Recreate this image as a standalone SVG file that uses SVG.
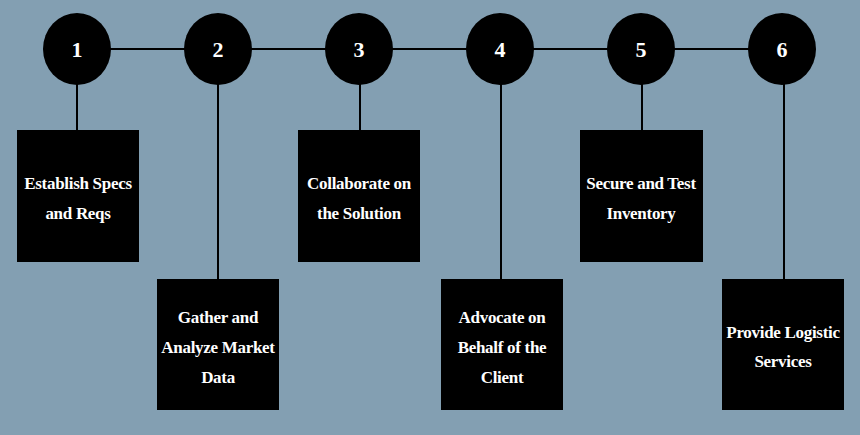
<svg xmlns="http://www.w3.org/2000/svg" width="860" height="435" viewBox="0 0 860 435">
<style>
.bg{fill:#839fb2}
.ln{stroke:#000;stroke-width:2;fill:none}
.c{fill:#000}
.box{fill:#000}
.num{font-family:"Liberation Serif","Times New Roman",serif;font-weight:bold;font-size:22px;fill:#fff;text-anchor:middle}
.lbl{font-family:"Liberation Serif","Times New Roman",serif;font-weight:bold;font-size:17px;fill:#fff;text-anchor:middle;letter-spacing:-0.3px}
</style>
<rect class="bg" x="0" y="0" width="860" height="435"/>
<g id="connectors">
<line class="ln" x1="77" y1="49" x2="782" y2="49"/>
<line class="ln" x1="77" y1="80" x2="77" y2="131"/>
<line class="ln" x1="218" y1="80" x2="218" y2="280"/>
<line class="ln" x1="360" y1="80" x2="360" y2="131"/>
<line class="ln" x1="501" y1="80" x2="501" y2="280"/>
<line class="ln" x1="642" y1="80" x2="642" y2="131"/>
<line class="ln" x1="784" y1="80" x2="784" y2="280"/>
</g>
<g id="step1">
<ellipse class="c" cx="77" cy="49" rx="34" ry="36"/>
<text class="num" x="77" y="57">1</text>
<rect class="box" x="17" y="130" width="122" height="132"/>
<text class="lbl" x="78" y="189">Establish Specs</text>
<text class="lbl" x="78" y="219">and Reqs</text>
</g>
<g id="step2">
<ellipse class="c" cx="218" cy="49" rx="34" ry="36"/>
<text class="num" x="218" y="57">2</text>
<rect class="box" x="157" y="279" width="122" height="131"/>
<text class="lbl" x="218" y="323">Gather and</text>
<text class="lbl" x="218" y="353">Analyze Market</text>
<text class="lbl" x="218" y="383">Data</text>
</g>
<g id="step3">
<ellipse class="c" cx="359" cy="49" rx="34" ry="36"/>
<text class="num" x="359" y="57">3</text>
<rect class="box" x="298" y="130" width="122" height="132"/>
<text class="lbl" x="359" y="189">Collaborate on</text>
<text class="lbl" x="359" y="219">the Solution</text>
</g>
<g id="step4">
<ellipse class="c" cx="500" cy="49" rx="34" ry="36"/>
<text class="num" x="500" y="57">4</text>
<rect class="box" x="441" y="279" width="122" height="131"/>
<text class="lbl" x="502" y="323">Advocate on</text>
<text class="lbl" x="502" y="353">Behalf of the</text>
<text class="lbl" x="502" y="383">Client</text>
</g>
<g id="step5">
<ellipse class="c" cx="641" cy="49" rx="34" ry="36"/>
<text class="num" x="641" y="57">5</text>
<rect class="box" x="580" y="130" width="123" height="132"/>
<text class="lbl" x="641" y="189">Secure and Test</text>
<text class="lbl" x="641" y="219">Inventory</text>
</g>
<g id="step6">
<ellipse class="c" cx="782" cy="49" rx="34" ry="36"/>
<text class="num" x="782" y="57">6</text>
<rect class="box" x="722" y="279" width="122" height="131"/>
<text class="lbl" x="783" y="338">Provide Logistic</text>
<text class="lbl" x="783" y="367">Services</text>
</g>
</svg>
